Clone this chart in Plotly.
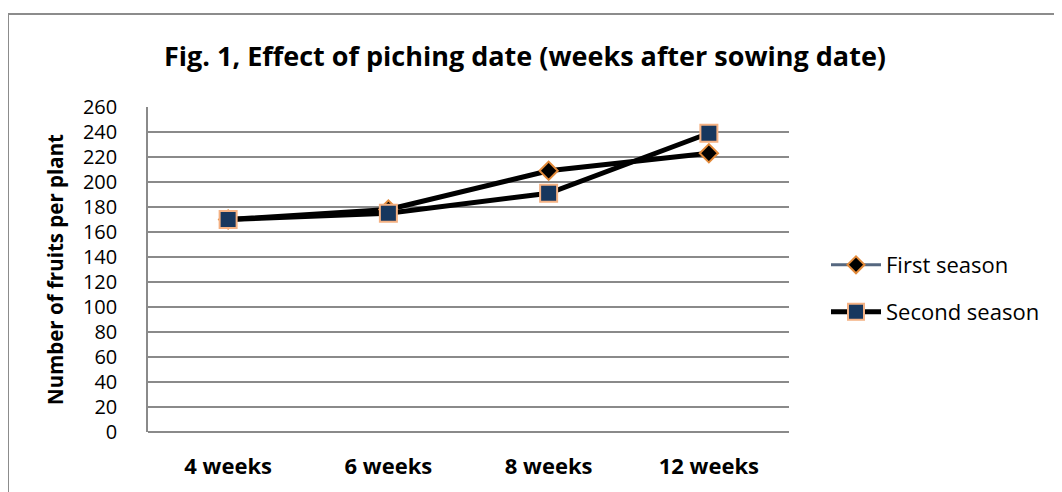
import plotly.graph_objects as go

categories = ["4 weeks", "6 weeks", "8 weeks", "12 weeks"]
first_season = [170, 178, 209, 223]
second_season = [170, 175, 191, 239]
y_ticks = list(range(0, 261, 20))

FONT = "Open Sans"
GRID = "#8a8a8a"

fig = go.Figure()

fig.add_trace(go.Scatter(
    x=categories, y=first_season, mode="lines+markers", name="First season",
    line=dict(color="black", width=5),
    marker=dict(symbol="diamond", size=14, color="black",
                line=dict(color="#e38a3a", width=2)),
    showlegend=False,
))
fig.add_trace(go.Scatter(
    x=categories, y=second_season, mode="lines+markers", name="Second season",
    line=dict(color="black", width=5),
    marker=dict(symbol="square", size=17, color="#17375e",
                line=dict(color="#f4b183", width=2)),
    showlegend=False,
))

# legend-only entries
fig.add_trace(go.Scatter(
    x=[None], y=[None], mode="lines+markers", name="First season",
    line=dict(color="#55677f", width=3),
    marker=dict(symbol="diamond", size=13, color="black",
                line=dict(color="#e38a3a", width=2)),
    legend="legend",
))
fig.add_trace(go.Scatter(
    x=[None], y=[None], mode="lines+markers", name="Second season",
    line=dict(color="black", width=5),
    marker=dict(symbol="square", size=16, color="#17375e",
                line=dict(color="#f4b183", width=2)),
    legend="legend2",
))

# target pixel positions in the page; the page body adds an 8px offset
OX, OY = 8, 8
L, R, T, B = 148, 789, 107, 432
W, H = 1062, 492
pw, ph = R - L, B - T

def px_x(p):
    return (p - L) / pw

def px_y(p):
    return (B - p) / ph

fig.update_layout(
    width=W, height=H,
    margin=dict(l=L - OX, r=W - (R - OX), t=T - OY, b=H - (B - OY)),
    paper_bgcolor="white", plot_bgcolor="white",
    font=dict(family=FONT, color="black"),
    title=dict(text="<b>Fig. 1, Effect of piching date (weeks after sowing date)</b>",
               font=dict(family=FONT, size=27, color="black"),
               x=(525 - OX) / W, xanchor="center", xref="container",
               y=1 - (57 - OY) / H, yanchor="middle", yref="container"),
    xaxis=dict(
        type="category", categoryorder="array", categoryarray=categories,
        range=[-0.5, 3.5], showgrid=False, zeroline=False,
        showline=False, ticks="", ticklabelstandoff=19,
        tickfont=dict(family=FONT, size=22, color="black", weight="bold"),
    ),
    yaxis=dict(
        range=[0, 260], tickmode="array", tickvals=y_ticks,
        ticktext=[str(v) for v in y_ticks],
        showgrid=True, gridcolor=GRID, gridwidth=1.5,
        zeroline=True, zerolinecolor=GRID, zerolinewidth=1.5,
        showline=True, linecolor=GRID, linewidth=1.5,
        ticks="", ticklabelstandoff=25,
        tickfont=dict(family=FONT, size=20, color="black"),
        title=dict(text="<b>Number of fruits per plant</b>", standoff=14,
                   font=dict(family=FONT, size=20.5, color="black")),
    ),
    legend=dict(x=px_x(826), y=px_y(265), xanchor="left", yanchor="middle",
                font=dict(family=FONT, size=22, color="black"),
                bgcolor="rgba(0,0,0,0)", itemwidth=50),
    legend2=dict(x=px_x(826), y=px_y(312), xanchor="left", yanchor="middle",
                 font=dict(family=FONT, size=22, color="black"),
                 bgcolor="rgba(0,0,0,0)", itemwidth=50),
    shapes=[dict(type="rect", xref="paper", yref="paper",
                 x0=px_x(8), x1=px_x(1100), y0=px_y(560), y1=px_y(14),
                 line=dict(color="#8c8c8c", width=2), fillcolor="rgba(0,0,0,0)",
                 layer="below")],
)

fig.write_html("out.html")
